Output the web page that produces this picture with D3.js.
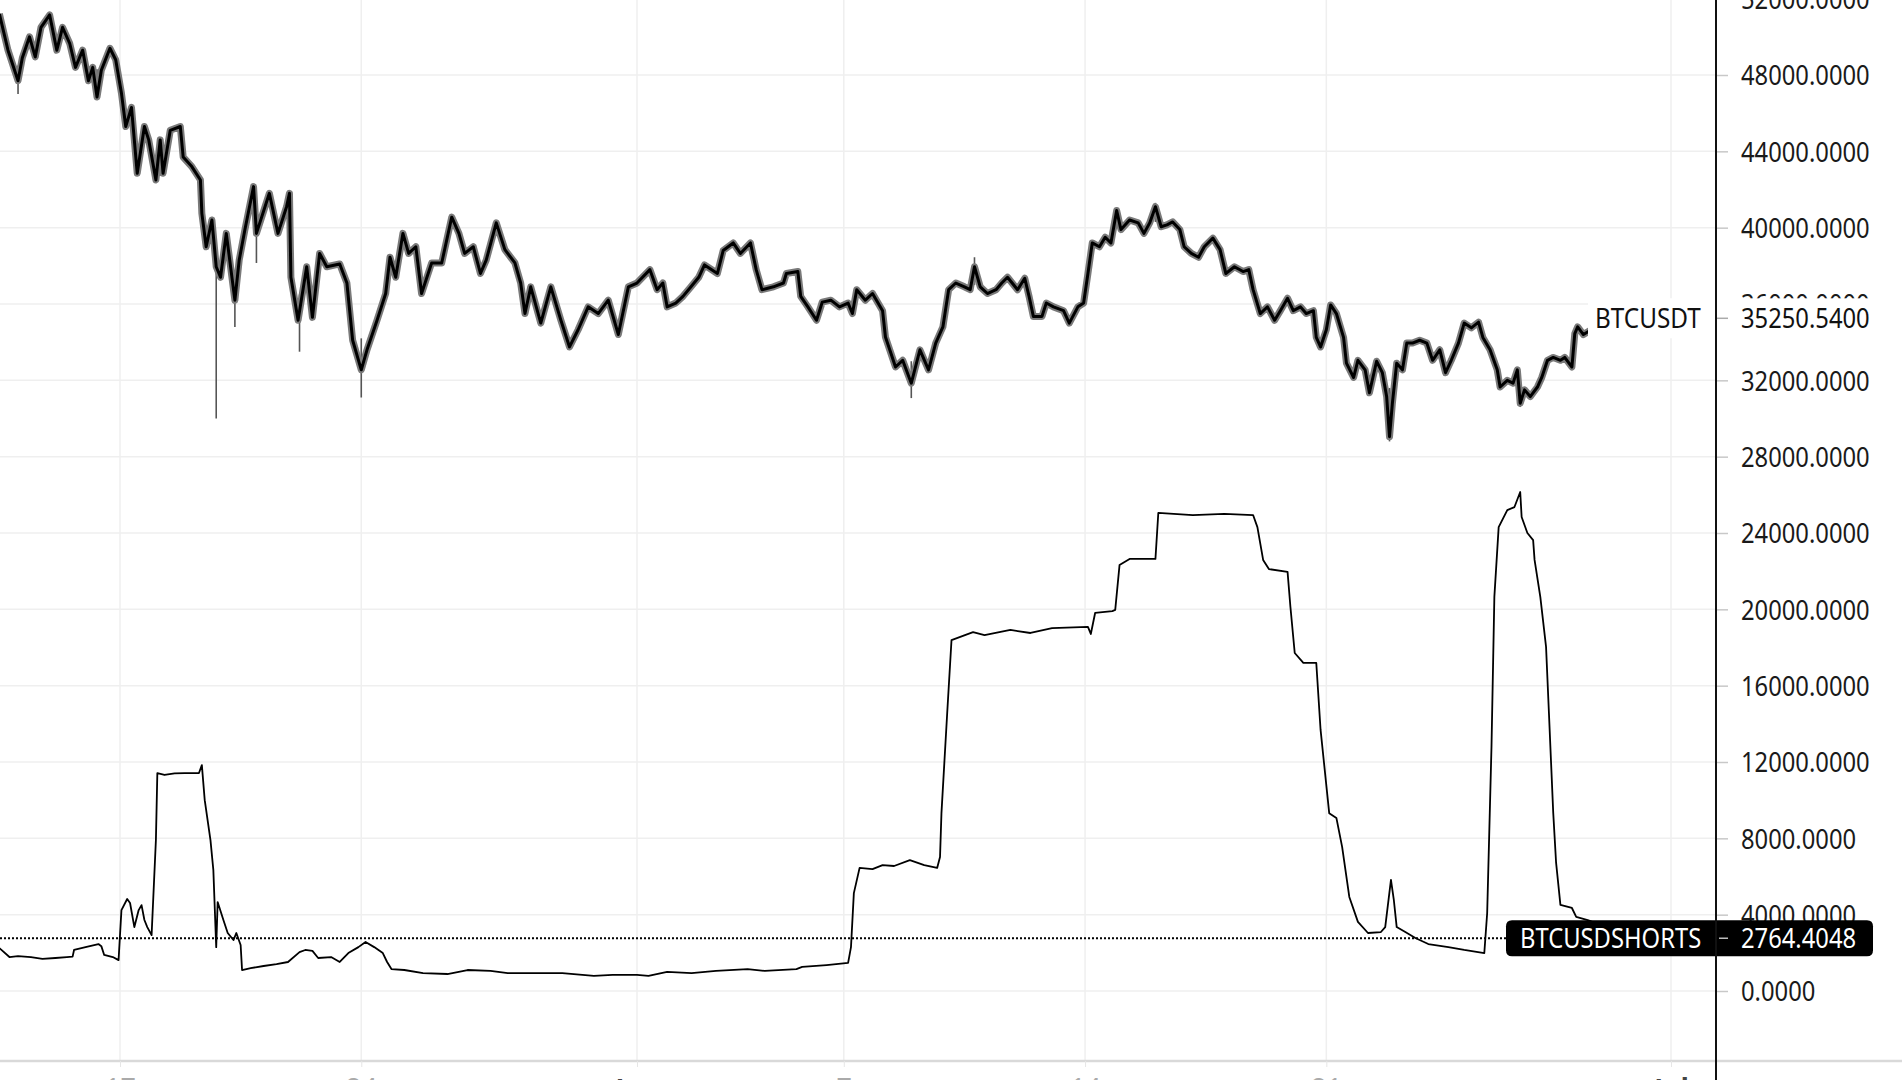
<!DOCTYPE html>
<html><head><meta charset="utf-8">
<script src="https://cdn.jsdelivr.net/npm/d3@7"></script>
<style>
html,body{margin:0;padding:0;background:#fff;overflow:hidden;}
svg{display:block;}
text{font-family:"Noto Sans","Open Sans",sans-serif;}
</style></head><body>
<svg id="chart" width="1902" height="1080"></svg>
<script>
// ---- DATA (hours since 2021-05-13 12:00 UTC) ----
const priceHours = [0,6,13,16,21,25,29,35,40,44,49,53,58,62,65,68,71,77,81,85,88,92,96,101,104,109,112,114,119,126,128,134,140,141,144,148,151,154,158,164,167,171,177,179,188,194,200,202,203,208,214,218,223,228,237,242,246,252,256,263,269,272,276,281,285,290,294,301,308,315,320,324,330,335,339,346,352,359,363,366,370,377,384,391,397,403,410,417,424,431,438,444,453,458,462,465,471,476,481,487,491,500,504,511,516,523,527,531,539,546,548,556,558,563,569,573,579,585,591,594,597,603,608,615,617,620,624,629,635,641,647,652,657,661,666,672,676,679,683,688,694,698,702,709,714,717,720,726,729,734,741,745,751,755,758,761,766,770,774,778,781,787,793,797,801,805,809,813,817,822,825,830,835,839,845,850,854,860,866,870,873,878,883,888,892,897,901,906,910,915,917,920,924,927,931,936,938,943,946,951,954,959,963,966,968,970,973,977,980,984,989,994,998,1003,1007,1011,1016,1020,1025,1030,1033,1038,1043,1045,1050,1054,1057,1059,1062,1066,1071,1074,1078,1082,1087,1090,1095,1097,1099,1103,1114,1128,1142];
const priceValues = [51200,49300,47700,48900,50000,48950,50500,51150,49300,50500,49650,48400,49300,47700,48400,46850,48250,49400,48800,47050,45300,46300,42850,45300,44600,42500,44600,42850,45100,45300,43700,43200,42500,40750,39000,40400,37950,37400,39700,36200,38300,39900,42150,39700,41800,39700,41100,41800,37400,35150,37950,35300,38650,37950,38100,37100,34100,32550,33600,35150,36550,38450,37400,39700,38650,39000,36550,38150,38150,40550,39700,38650,39000,37600,38300,40250,38850,38150,37100,35500,36900,35000,36900,35150,33750,34650,35850,35500,36200,34400,36900,37100,37800,36750,37100,35850,36050,36400,36850,37400,38050,37600,38800,39200,38650,39200,37800,36750,36900,37100,37600,37700,36400,35850,35150,36100,36200,35850,36050,35500,36750,36200,36550,35650,34270,33600,32700,33050,31850,33600,32550,33950,34800,36750,37100,36900,36750,37950,36900,36550,36750,37100,37400,36750,37350,36400,35350,35350,36050,35850,35650,35000,35850,36050,37600,39200,39000,39500,39200,40900,39900,40400,40250,39700,40250,41100,40050,40150,40300,39900,39000,38650,38450,39000,39450,38850,37600,37950,37700,37800,36750,35500,35850,35150,35650,36300,35650,35850,35500,35650,34250,33750,34650,35950,35500,34250,32900,32150,33050,32550,31350,33000,32400,31150,29050,30800,32900,32550,33950,33950,34100,33950,33050,33600,32400,33050,33950,35000,34750,35050,34250,33600,32550,31650,32000,31850,32550,30800,31500,31150,31650,32150,33050,33200,33050,33200,32700,34450,34800,34400,34900,35300,35250.54];
// notable wicks: hour, low, high
const wickHours = [13,68,151,164,179,209,252,635,679,805,968,1059];
const wickLow   = [47000,46800,30000,34800,38150,33500,31100,31070,37000,40300,28800,30600];
const wickHigh  = [48500,48300,38200,37600,40500,36500,34200,33000,38450,41300,31600,32000];

const shortsHours = [0,7,13,22,30,39,47,51,52,60,69,71,73,79,83,85,89,91,94,97,99,101,103,106,109,110,115,122,129,139,141,143,147,149,151,152,156,159,163,165,168,169,175,184,193,201,209,213,218,222,231,237,243,250,255,261,267,270,273,282,295,312,326,342,354,372,392,414,427,444,452,465,482,499,521,533,555,559,576,591,593,595,599,608,615,623,634,644,653,655,656,660,663,678,686,704,718,733,758,760,763,775,777,780,787,805,807,831,853,873,876,880,884,897,899,902,908,917,920,926,931,935,940,946,953,962,965,969,971,973,979,986,995,1009,1020,1034,1036,1039,1041,1044,1050,1055,1059,1060,1064,1068,1069,1073,1077,1079,1082,1084,1087,1095,1098,1106,1121,1142];
const shortsValues = [2250,1780,1830,1780,1680,1730,1780,1800,2150,2300,2460,2350,1890,1780,1620,4240,4820,4610,3350,4240,4500,3720,3350,2930,7910,11420,11320,11400,11420,11420,11840,10000,7910,6340,2300,4660,3720,3040,2670,3040,2410,1100,1200,1310,1410,1520,2040,2150,2100,1730,1780,1520,1990,2300,2570,2300,1990,1520,1150,1100,940,890,1100,1050,940,940,940,790,840,840,790,1000,940,1050,1150,1050,1150,1260,1360,1470,2300,5130,6450,6390,6600,6550,6860,6600,6450,7020,9320,14570,18390,18810,18650,18920,18760,19020,19080,18710,19810,19910,19970,22320,22640,22640,25050,24940,25000,24940,24310,22590,22110,21960,20120,17710,17190,17190,13680,9320,9070,7550,4930,3620,3040,3090,3350,5820,4770,3350,3090,2780,2460,2300,2150,1990,4090,12790,20650,24310,25200,25360,26150,24840,24000,23630,22590,20650,18030,14570,9330,6710,4510,4350,3880,3720,3300,2764.4048];

const yTickValues = [0,4000,8000,12000,16000,20000,24000,28000,32000,36000,40000,44000,48000,52000];
const xTickDates = ["2021-05-17","2021-05-24","2021-06-01","2021-06-07","2021-06-14","2021-06-21","2021-07-01"];
const xTickLabels = ["17","24","Jun","7","14","21","Jul"];
const priceName = "BTCUSDT", priceLast = 35250.54;
const shortsName = "BTCUSDSHORTS", shortsLast = 2764.4048;

// ---- CHART ----
const base = Date.UTC(2021,4,13,12);
const toDate = h => new Date(base + h*3600e3);
const svg = d3.select("#chart");
const W = 1902, H = 1080, axisX = 1716, bottomY = 1061;

const x = d3.scaleUtc()
  .domain([new Date("2021-05-17T00:00:00Z"), new Date("2021-07-01T00:00:00Z")])
  .range([120, 1671]);
const y = d3.scaleLinear().domain([0, 48000]).range([991, 75]);

const compress = (sel, k) => sel.each(function(){
  const L = this.getComputedTextLength();
  d3.select(this).attr("textLength", L*k).attr("lengthAdjust","spacingAndGlyphs");
});

// grid
const grid = svg.append("g");
grid.selectAll("line.h").data(yTickValues).join("line")
  .attr("x1",0).attr("x2",axisX).attr("y1",d=>y(d)).attr("y2",d=>y(d))
  .attr("stroke","#efefef").attr("stroke-width",1.5);
grid.selectAll("line.v").data(xTickDates).join("line")
  .attr("x1",d=>x(new Date(d+"T00:00:00Z"))).attr("x2",d=>x(new Date(d+"T00:00:00Z")))
  .attr("y1",0).attr("y2",bottomY)
  .attr("stroke","#efefef").attr("stroke-width",1.5);

// price series
const priceData = priceHours.map((h,i)=>({t:toDate(h), v:priceValues[i]}));
const line = d3.line().x(d=>x(d.t)).y(d=>y(d.v));
const wg = svg.append("g");
wg.selectAll("line").data(wickHours).join("line")
  .attr("x1",(h)=>x(toDate(h))).attr("x2",(h)=>x(toDate(h)))
  .attr("y1",(h,i)=>y(wickLow[i])).attr("y2",(h,i)=>y(wickHigh[i]))
  .attr("stroke","#555").attr("stroke-width",1.6);
svg.append("path").datum(priceData).attr("d",line)
  .attr("fill","none").attr("stroke","#7a7a7a").attr("stroke-width",7).attr("stroke-linejoin","round");
svg.append("path").datum(priceData).attr("d",line)
  .attr("fill","none").attr("stroke","#000").attr("stroke-width",3).attr("stroke-linejoin","round");

// shorts series
const shortsData = shortsHours.map((h,i)=>({t:toDate(h), v:shortsValues[i]}));
svg.append("path").datum(shortsData).attr("d",line)
  .attr("fill","none").attr("stroke","#000").attr("stroke-width",1.8).attr("stroke-linejoin","round");

// dotted last-value line for shorts
svg.append("line").attr("x1",0).attr("x2",1506).attr("y1",y(shortsLast)).attr("y2",y(shortsLast))
  .attr("stroke","#000").attr("stroke-width",2).attr("stroke-dasharray","2,2");

// bottom border
svg.append("line").attr("x1",0).attr("x2",W).attr("y1",bottomY).attr("y2",bottomY)
  .attr("stroke","#d9d9d9").attr("stroke-width",2.5);

// x axis
const xAxis = d3.axisBottom(x)
  .tickValues(xTickDates.map(d=>new Date(d+"T00:00:00Z")))
  .tickFormat((d,i)=>xTickLabels[i]).tickSize(6).tickPadding(12);
const xg = svg.append("g").attr("transform",`translate(0,${bottomY})`).call(xAxis);
xg.select(".domain").remove();
xg.selectAll(".tick line").attr("stroke","#e6e6e6");
xg.selectAll(".tick text").attr("font-size",27)
  .attr("fill",(d,i)=>(xTickLabels[i].length>2?"#444":"#aaa"))
  .attr("font-family","'Noto Sans', sans-serif")
  .attr("font-weight",(d,i)=>(xTickLabels[i].length>2?700:400));

// y axis (right)
const yAxis = d3.axisRight(y).tickValues(yTickValues)
  .tickFormat(d=>d.toFixed(4)).tickSize(12).tickPadding(13);
const yg = svg.append("g").attr("transform",`translate(${axisX},0)`).call(yAxis);
yg.select(".domain").remove();
yg.selectAll(".tick line").attr("stroke","#c8c8c8").attr("stroke-width",1.5);
const yt = yg.selectAll(".tick text").attr("font-size",27).attr("fill","#1a1a1a")
  .attr("font-family","'Noto Sans', sans-serif").attr("dy","0.36em");
compress(yt, 0.88);

// axis vertical line
svg.append("line").attr("x1",axisX).attr("x2",axisX).attr("y1",0).attr("y2",H)
  .attr("stroke","#111").attr("stroke-width",2);

// price label (white boxes)
const py = y(priceLast);
svg.append("rect").attr("x",1588).attr("y",py-20).attr("width",axisX-1-1588).attr("height",40).attr("fill","#fff");
svg.append("rect").attr("x",axisX+1).attr("y",py-20).attr("width",170).attr("height",40).attr("fill","#fff");
svg.append("line").attr("x1",axisX+1).attr("x2",axisX+12).attr("y1",py).attr("y2",py)
  .attr("stroke","#aaa").attr("stroke-width",1.5);
compress(svg.append("text").attr("x",1595).attr("y",py).attr("dy","0.36em")
  .attr("font-size",27).attr("fill","#111").text(priceName), 0.9);
compress(svg.append("text").attr("x",1741).attr("y",py).attr("dy","0.36em")
  .attr("font-size",27).attr("fill","#111").text(priceLast.toFixed(4)), 0.88);

// shorts label (black boxes)
const sy = y(shortsLast);
const r = 6;
svg.append("path").attr("fill","#000").attr("d",
  `M${1506+r},${sy-18} H${axisX-1} V${sy+18} H${1506+r} Q1506,${sy+18} 1506,${sy+18-r} V${sy-18+r} Q1506,${sy-18} ${1506+r},${sy-18} Z`);
svg.append("path").attr("fill","#000").attr("d",
  `M${axisX+1},${sy-18} H${1873-r} Q1873,${sy-18} 1873,${sy-18+r} V${sy+18-r} Q1873,${sy+18} ${1873-r},${sy+18} H${axisX+1} Z`);
svg.append("line").attr("x1",axisX+3).attr("x2",axisX+12).attr("y1",sy).attr("y2",sy)
  .attr("stroke","#bbb").attr("stroke-width",1.5);
compress(svg.append("text").attr("x",1520).attr("y",sy).attr("dy","0.36em")
  .attr("font-size",27).attr("fill","#fff").text(shortsName), 0.88);
compress(svg.append("text").attr("x",1741).attr("y",sy).attr("dy","0.36em")
  .attr("font-size",27).attr("fill","#fff").text(shortsLast.toFixed(4)), 0.88);
</script>
</body></html>
